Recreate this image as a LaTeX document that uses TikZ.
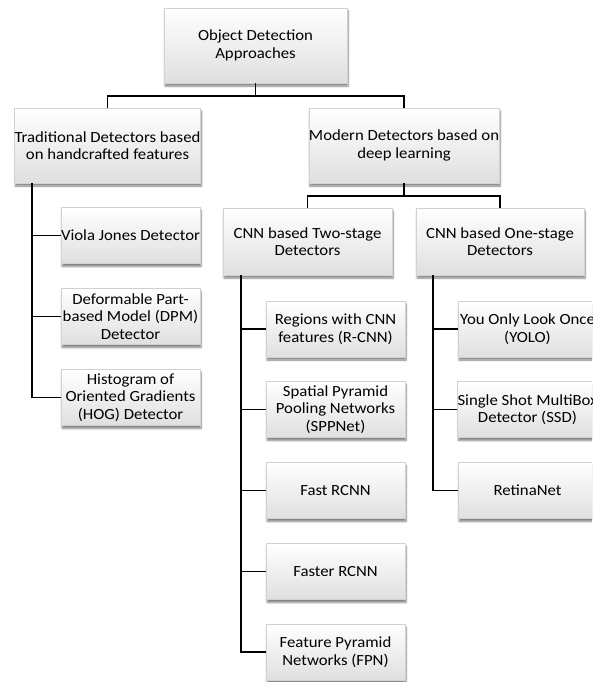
\documentclass[tikz,border=0pt]{standalone}
\usepackage{fontspec}
\setmainfont{Carlito}[FakeStretch=1.08]
\usetikzlibrary{shadows.blur}
\begin{document}
\begin{tikzpicture}[x=1pt,y=-1pt,
  box/.style={rectangle, draw=gray!35, line width=0.4pt, shading=axis, top color=white, bottom color=gray!25,
    blur shadow={shadow xshift=1pt, shadow yshift=-3pt, shadow blur steps=6, shadow opacity=50},
    align=center, inner xsep=0pt, inner ysep=1pt, font=\fontsize{15.5}{17.6}\selectfont},
  big/.style={box, minimum width=#1, minimum height=75pt},
  mid/.style={box, minimum width=#1, minimum height=67pt},
  leaf/.style={box, minimum width=139pt, minimum height=56pt},
  conn/.style={line width=1.8pt, black}]
\useasboundingbox (0,0) rectangle (592,682);
\clip (0,0) rectangle (592,682);
% nodes
\node[big=183pt] (root) at (255.5,45.5) {Object Detection\\Approaches};
\node[big=185pt] (trad) at (107.5,145.5) {Traditional Detectors based\\on handcrafted features};
\node[big=186pt] (modern) at (404,145.5) {Modern Detectors based on\\deep learning};
\node[mid=169pt] (two) at (307.5,241.5) {CNN based Two-stage\\Detectors};
\node[mid=168pt] (one) at (500,241.5) {CNN based One-stage\\Detectors};
\node[leaf] (viola) at (130.5,235.5) {Viola Jones Detector};
\node[leaf] (dpm) at (130.5,316.5) {Deformable Part-\\based Model (DPM)\\Detector};
\node[leaf] (hog) at (130.5,397.5) {Histogram of\\Oriented Gradients\\(HOG) Detector};
\node[leaf] (rcnn) at (335.5,329) {Regions with CNN\\features (R-CNN)};
\node[leaf] (spp) at (335.5,409.5) {Spatial Pyramid\\Pooling Networks\\(SPPNet)};
\node[leaf] (fast) at (335.5,490.5) {Fast RCNN};
\node[leaf] (faster) at (335.5,571.5) {Faster RCNN};
\node[leaf] (fpn) at (335.5,652) {Feature Pyramid\\Networks (FPN)};
\node[leaf] (yolo) at (527.5,329) {You Only Look Once\\(YOLO)};
\node[leaf] (ssd) at (527.5,409.5) {Single Shot MultiBox\\Detector (SSD)};
\node[leaf] (retina) at (527.5,490.5) {RetinaNet};
% connectors
\draw[conn] (root.south) -- ++(0,13);
\draw[conn] (trad.north) -- ++(0,-12) -| (modern.north);
\draw[conn] (modern.south) -- ++(0,13);
\draw[conn] (two.north) -- ++(0,-12) -| (one.north);
\coordinate (tt) at ([xshift=18pt]trad.south west);
\coordinate (tw) at ([xshift=18pt]two.south west);
\coordinate (to) at ([xshift=17pt]one.south west);
\draw[conn] (tt) |- (hog.west);
\draw[conn] (viola.west) -- (viola.west -| tt);
\draw[conn] (dpm.west) -- (dpm.west -| tt);
\draw[conn] (tw) |- (fpn.west);
\draw[conn] (rcnn.west) -- (rcnn.west -| tw);
\draw[conn] (spp.west) -- (spp.west -| tw);
\draw[conn] (fast.west) -- (fast.west -| tw);
\draw[conn] (faster.west) -- (faster.west -| tw);
\draw[conn] (to) |- (retina.west);
\draw[conn] (yolo.west) -- (yolo.west -| to);
\draw[conn] (ssd.west) -- (ssd.west -| to);
\end{tikzpicture}
\end{document}
